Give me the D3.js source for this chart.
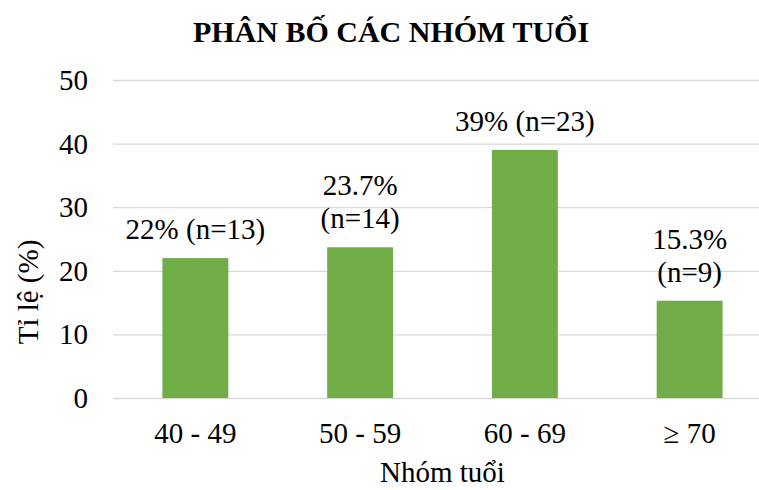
<!DOCTYPE html>
<html>
<head>
<meta charset="utf-8">
<script src="https://cdn.jsdelivr.net/npm/d3@7"></script>
<style>
  html, body { margin: 0; padding: 0; background: #fff; }
  svg text { font-family: "Liberation Serif", "Times New Roman", serif; fill: #000; }
</style>
</head>
<body>
<svg id="chart" width="759" height="490"></svg>
<script>
const categories = ["40 - 49", "50 - 59", "60 - 69", "\u2265 70"];
const values = [22, 23.7, 39, 15.3];
const labelLines = [["22% (n=13)"], ["23.7%", "(n=14)"], ["39% (n=23)"], ["15.3%", "(n=9)"]];
const yTicks = [0, 10, 20, 30, 40, 50];
const title = "PHÂN BỐ CÁC NHÓM TUỔI";
const xTitle = "Nhóm tuổi";
const yTitle = "Tỉ lệ (%)";

(function () {
const svg = d3.select("#chart");
const plotLeft = 113, plotRight = 772, plotTop = 80, plotBottom = 398;

const x = d3.scaleBand().domain(categories).range([plotLeft, plotRight]).paddingInner(0.6).paddingOuter(0.3);
const y = d3.scaleLinear().domain([0, 50]).range([plotBottom, plotTop]);

// gridlines
svg.append("g").selectAll("line").data(yTicks).join("line")
  .attr("x1", plotLeft).attr("x2", plotRight)
  .attr("y1", d => y(d) + 0.5).attr("y2", d => y(d) + 0.5)
  .attr("stroke", "#d9d9d9").attr("stroke-width", 1.3);

// y axis labels
const yAxis = d3.axisLeft(y).tickValues(yTicks).tickSize(0).tickPadding(0);
const gy = svg.append("g").attr("transform", `translate(88,0)`).call(yAxis);
gy.select(".domain").remove();
gy.selectAll("text").attr("font-size", 29).attr("font-family", "Liberation Serif").attr("fill", "#000").attr("dy", "0.33em");

// bars
svg.append("g").selectAll("rect").data(values).join("rect")
  .attr("x", (d, i) => x(categories[i]))
  .attr("width", x.bandwidth())
  .attr("y", d => y(d))
  .attr("height", d => y(0) - y(d))
  .attr("fill", "#70ad47");

// x axis labels
const xAxis = d3.axisBottom(x).tickSize(0).tickPadding(0);
const gx = svg.append("g").attr("transform", `translate(0,443)`).call(xAxis);
gx.select(".domain").remove();
gx.selectAll("text").attr("font-size", 29).attr("font-family", "Liberation Serif").attr("fill", "#000").attr("dy", 0).attr("y", 0);

// data labels
values.forEach((v, i) => {
  const lines = labelLines[i];
  const cx = x(categories[i]) + x.bandwidth() / 2;
  lines.forEach((t, j) => {
    svg.append("text")
      .attr("x", cx)
      .attr("y", y(v) - 19 - (lines.length - 1 - j) * 33)
      .attr("text-anchor", "middle")
      .attr("font-size", 29)
      .text(t);
  });
});

// title
svg.append("text").attr("x", 391).attr("y", 42).attr("text-anchor", "middle")
  .attr("font-size", 30).attr("font-weight", "bold").text(title);

// axis titles
svg.append("text").attr("x", (plotLeft + plotRight) / 2).attr("y", 482).attr("text-anchor", "middle")
  .attr("font-size", 29).text(xTitle);
svg.append("text").attr("transform", "translate(38,292) rotate(-90)").attr("text-anchor", "middle")
  .attr("font-size", 29).text(yTitle);
})();
</script>
</body>
</html>
